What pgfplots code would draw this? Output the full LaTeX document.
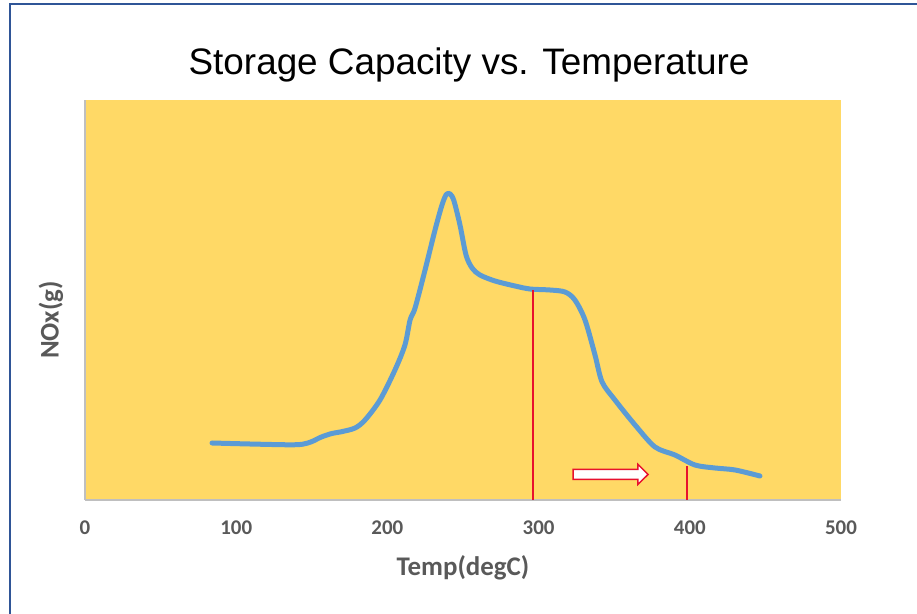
\documentclass[border=0pt]{standalone}
\usepackage{pgfplots}
\pgfplotsset{compat=1.18}
\usepackage{fontspec}
\setmainfont{Liberation Sans}
\newfontfamily\carlito{Carlito}
\definecolor{bgyellow}{HTML}{FFD966}
\definecolor{curveblue}{HTML}{5B9BD5}
\definecolor{tickgray}{HTML}{595959}
\definecolor{axgray}{HTML}{BFBFBF}
\definecolor{framecol}{HTML}{2F5597}
\definecolor{markred}{HTML}{E8112D}
\begin{document}
\begin{tikzpicture}
\useasboundingbox (0,0) rectangle (917bp,614bp);
\draw[framecol, line width=2bp] (9.5bp,-5bp) -- (9.5bp,609.5bp) -- (925bp,609.5bp);
\node[font=\fontsize{37}{42}\selectfont, text=black] at (469bp,549bp) {Storage Capacity vs. Temperature};
\begin{axis}[
  at={(85bp,114bp)}, anchor=south west,
  scale only axis, width=756bp, height=400bp,
  xmin=0, xmax=500, ymin=0, ymax=100,
  axis background/.style={fill=bgyellow},
  axis x line*=bottom, axis y line*=left,
  axis line style={axgray, line width=1.2bp},
  xtick={0,100,200,300,400,500}, ytick=\empty,
  major tick length=0pt,
  /pgf/number format/assume math mode=true,
  xticklabel style={font=\carlito\bfseries\fontsize{21}{24}\selectfont, text=tickgray, anchor=center, yshift=-28bp},
  xlabel={Temp(degC)}, ylabel={NOx(g)},
  xlabel style={font=\carlito\bfseries\fontsize{27}{30}\selectfont, text=tickgray, at={(axis description cs:0.5,-0.17)}, anchor=center},
  ylabel style={font=\carlito\bfseries\fontsize{27}{30}\selectfont, text=tickgray, at={(axis description cs:-0.045,0.45)}, anchor=center},
  clip=false,
]
\addplot[curveblue, line width=5bp, smooth, line cap=round, line join=round] coordinates {
(84,14.25)(109,14)(135,13.8)(144,13.95)(150,14.6)(156,15.7)(163,16.6)(170,17.1)(178.6,18)(185.2,20)
(195.1,25)(205,32.5)(211.6,38.75)(215,45)(218.3,48)(224.9,57.5)(231.5,67.5)(236.1,73.75)
(239,76.4)(241.5,76.5)(244,74.8)(248,68.75)(252,61.25)(256,58)(261.2,56.25)(271.2,54.75)(284.4,53.5)
(294.3,52.75)(307.5,52.5)(317.5,52)(324,50)(330.7,45)(337.3,36.25)(342,29.5)(350.5,25)
(363.8,18.75)(377,13.25)(390.2,11.25)(403.4,8.75)(416.7,8)(430,7.5)(446.4,6)
};
\addplot[markred, line width=2bp] coordinates {(296,0)(296,52.5)};
\addplot[markred, line width=2bp] coordinates {(398,0)(398,8.5)};
\addplot[draw=markred, fill=white, line width=1.5bp] coordinates {
(322.8,5.15)(365.7,5.15)(365.7,3.9)(372.4,6.4)(365.7,8.9)(365.7,7.65)(322.8,7.65)
} -- cycle;
\end{axis}
\end{tikzpicture}
\end{document}
